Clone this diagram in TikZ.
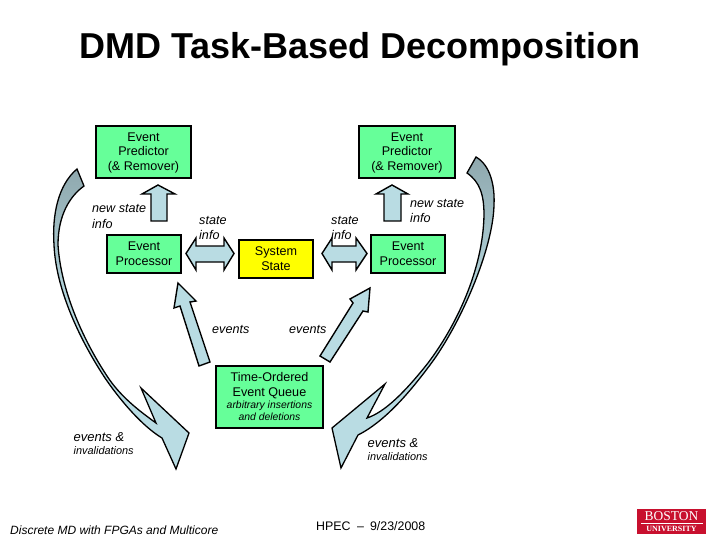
\documentclass[tikz,border=0pt]{standalone}
\usepackage{fontspec}
\setmainfont{Liberation Sans}
\newfontfamily\logofont{Liberation Serif}
\definecolor{boxgreen}{HTML}{66FF99}
\definecolor{sysyellow}{HTML}{FFFF00}
\definecolor{arrowblue}{HTML}{B9DCE3}
\definecolor{arrowgrey}{HTML}{8FA8AE}
\definecolor{logored}{HTML}{C8102E}
\tikzset{
  greenbox/.style={draw=black,line width=1.3pt,fill=boxgreen},
  yellowbox/.style={draw=black,line width=1.3pt,fill=sysyellow},
  blockarrow/.style={draw=black,line width=1.4pt,fill=arrowblue,line join=miter,miter limit=6},
  curvearrow/.style={draw=black,line width=1.3pt,top color=arrowgrey,bottom color=arrowblue,middle color=arrowblue,line join=miter,miter limit=6},
  boxtext/.style={inner sep=0pt,align=center,font=\fontsize{12.6}{14.5}\selectfont},
  twotext/.style={inner sep=0pt,align=center,font=\fontsize{12.6}{15.2}\selectfont},
  itext/.style={inner sep=0pt,align=left,anchor=west,font=\fontsize{12.6}{15.5}\selectfont\itshape},
  smalli/.style={inner sep=0pt,anchor=west,font=\fontsize{10.9}{12}\selectfont\itshape}
}
\begin{document}
\begin{tikzpicture}[x=1pt,y=-1pt]
\useasboundingbox (0,0) rectangle (720,540);
\fill[white] (0,0) rectangle (720,540);
\node[inner sep=0pt,font=\fontsize{36}{40}\selectfont\bfseries] (title) at (360,49) {DMD Task-Based Decomposition};

% curved arrows
\path[curvearrow] (77,169) .. controls (58,185) and (52,215) .. (54,245)
  .. controls (56,290) and (80,340) .. (105,378)
  .. controls (120,400) and (142,426) .. (162,438)
  -- (176,469) -- (189,433) -- (141,388) -- (156,423)
  .. controls (138,410) and (120,396) .. (107,376)
  .. controls (82,338) and (61,290) .. (58,245)
  .. controls (58,215) and (70,196) .. (84,186) -- cycle;
\path[curvearrow] (476,157) .. controls (490,165) and (495,185) .. (494,205)
  .. controls (493,250) and (460,325) .. (430,365)
  .. controls (415,385) and (388,420) .. (358,435)
  -- (341,468) -- (332,428) -- (385,384) -- (367,418)
  .. controls (385,412) and (405,392) .. (428,363)
  .. controls (456,326) and (483,270) .. (484,215)
  .. controls (484,195) and (480,182) .. (467,173) -- cycle;

% boxes
\node[greenbox,minimum width=95pt,minimum height=52pt,inner sep=0pt] (predL) at (143.5,152) {};
\node[boxtext] at ([yshift=-0.5pt]predL) {Event\\Predictor\\(\& Remover)};
\node[greenbox,minimum width=96pt,minimum height=52pt,inner sep=0pt] (predR) at (407,152) {};
\node[boxtext] at ([yshift=-0.5pt]predR) {Event\\Predictor\\(\& Remover)};
\node[greenbox,minimum width=74pt,minimum height=38pt,inner sep=0pt] (procL) at (144,254) {};
\node[twotext] at (procL) {Event\\Processor};
\node[greenbox,minimum width=74pt,minimum height=38pt,inner sep=0pt] (procR) at (408,254) {};
\node[twotext] at (procR) {Event\\Processor};
\node[yellowbox,minimum width=74pt,minimum height=38pt,inner sep=0pt] (sys) at (276,259) {};
\node[twotext] at (sys) {System\\State};
\node[greenbox,minimum width=107pt,minimum height=62pt,inner sep=0pt] (queue) at (269.5,397) {};
\node[twotext,anchor=north] (queuetext) at (269.5,372) {Time-Ordered\\Event Queue};
\node[inner sep=0pt,align=center,anchor=north,font=\fontsize{10.4}{12}\selectfont\itshape] (queuesub) at (269.5,400.5) {arbitrary insertions\\and deletions};

% straight block arrows
\path[blockarrow] (158,185) -- (175,194) -- (167,194) -- (167,221) -- (151,221) -- (151,194) -- (142,194) -- cycle;
\path[blockarrow] (392,185) -- (408,194) -- (401,194) -- (401,221) -- (384,221) -- (384,194) -- (376,194) -- cycle;
\path[blockarrow] (186,253.5) -- (196,238) -- (196,246) -- (224,246) -- (224,238) -- (234,253.5) -- (224,270) -- (224,262) -- (196,262) -- (196,270) -- cycle;
\path[blockarrow] (322,253.5) -- (332,238) -- (332,246) -- (356,246) -- (356,238) -- (367,253.5) -- (356,270) -- (356,262) -- (332,262) -- (332,270) -- cycle;
\path[blockarrow] (178,283) -- (196,301) -- (190,302) -- (210,362) -- (199,366) -- (180,306) -- (174,308) -- cycle;
\path[blockarrow] (370,288) -- (368,312) -- (363,311) -- (330,362) -- (320,356) -- (353,303) -- (350,299) -- cycle;

% labels
\node[itext] (l1) at (92,216.5) {new state\\info};
\node[itext] (l2) at (199,228) {state\\info};
\node[itext] (l3) at (331,228) {state\\info};
\node[itext] (l4) at (410,211) {new state\\info};
\node[itext] (l5) at (212,329.5) {events};
\node[itext] (l6) at (289,329.5) {events};
\node[itext,font=\fontsize{13}{15}\selectfont\itshape] (l7) at (73.5,437) {events \&};
\node[smalli] (l8) at (73.5,451) {invalidations};
\node[itext,font=\fontsize{13}{15}\selectfont\itshape] (l9) at (367.5,443) {events \&};
\node[smalli] (l10) at (367.5,457) {invalidations};

% footer
\node[inner sep=0pt,anchor=west,font=\fontsize{12}{14}\selectfont\itshape] (foot1) at (10,530) {Discrete MD with FPGAs and Multicore};
\node[inner sep=0pt,anchor=west,font=\fontsize{12.4}{14}\selectfont] (foot2) at (316,526.5) {HPEC\hspace{6.5pt}--\hspace{6pt}9/23/2008};

% logo
\node[draw=none,fill=logored,minimum width=69pt,minimum height=25pt,inner sep=0pt] (logo) at (671.5,521) {};
\node[inner sep=0pt,text=white,font=\logofont\fontsize{13.5}{14}\selectfont] (logo1) at (671.5,516.5) {BOSTON};
\draw[white,line width=0.6pt] (641,523.5) -- (703,523.5);
\node[inner sep=0pt,text=white,font=\logofont\fontsize{8}{9}\selectfont\bfseries] (logo2) at (671.5,528.8) {UNIVERSITY};
\end{tikzpicture}
\end{document}
